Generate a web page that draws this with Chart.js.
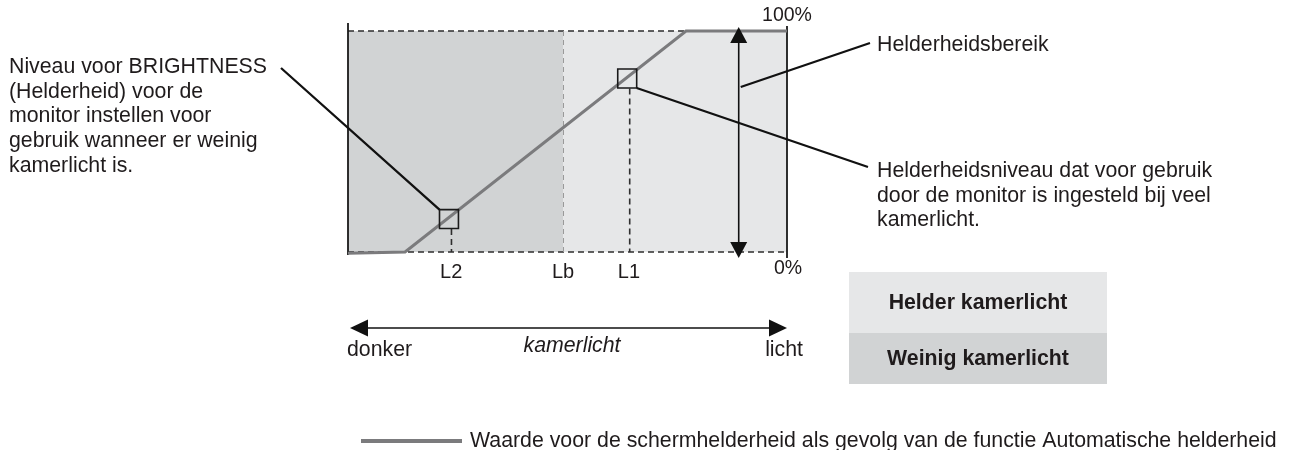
<!DOCTYPE html>
<html>
<head>
<meta charset="utf-8">
<script src="https://cdn.jsdelivr.net/npm/chart.js@4.4.1/dist/chart.umd.min.js"></script>
<style>
  html, body { margin: 0; padding: 0; background: #ffffff; }
  #wrap { width: 1294px; height: 450px; position: relative; }
</style>
</head>
<body>
<div id="wrap"><canvas id="chart" width="1294" height="450"></canvas></div>
<script>
// Room light (x, 0 = dark … 100 = light) against screen brightness (y, %)
const curveX = [0, 13, 77, 100];
const curveY = [-0.6, 0, 100, 100];

// Operating points L2 (little room light) and L1 (bright room light)
const markerX = [23, 63.6];
const markerY = [14.9, 78.5];

// Boundary between dim and bright room light
const boundaryX = 49;
// Position of the brightness-range arrow
const rangeX = 89;

// Tick labels along the light axis
const tickPos = [23.5, 49, 64];
const tickLabels = ['L2', 'Lb', 'L1'];
const yLabels = ['0%', '100%'];

const legendLabel = 'Waarde voor de schermhelderheid als gevolg van de functie Automatische helderheid';
const leftNote = ['Niveau voor BRIGHTNESS', '(Helderheid) voor de', 'monitor instellen voor', 'gebruik wanneer er weinig', 'kamerlicht is.'];
const rangeNote = 'Helderheidsbereik';
const levelNote = ['Helderheidsniveau dat voor gebruik', 'door de monitor is ingesteld bij veel', 'kamerlicht.'];
const zoneLabels = ['Helder kamerlicht', 'Weinig kamerlicht'];
const axisWords = ['donker', 'kamerlicht', 'licht'];

const FONT = '"Liberation Sans", Arial, Helvetica, sans-serif';
const SIZE = '21.3px ';
const TEXT = '#1f1b1c';
const DARK_ZONE = '#d1d3d4';
const LIGHT_ZONE = '#e6e7e8';
const CURVE = '#7b7b7d';

function arrowHead(ctx, x, y, dir, len, half) {
  // dir: 'up' | 'down' | 'left' | 'right'; (x, y) is the tip
  ctx.beginPath();
  ctx.moveTo(x, y);
  if (dir === 'up') { ctx.lineTo(x - half, y + len); ctx.lineTo(x + half, y + len); }
  if (dir === 'down') { ctx.lineTo(x - half, y - len); ctx.lineTo(x + half, y - len); }
  if (dir === 'left') { ctx.lineTo(x + len, y - half); ctx.lineTo(x + len, y + half); }
  if (dir === 'right') { ctx.lineTo(x - len, y - half); ctx.lineTo(x - len, y + half); }
  ctx.closePath();
  ctx.fill();
}

const backdrop = {
  id: 'backdrop',
  beforeDatasetsDraw(chart) {
    const { ctx, scales: { x, y } } = chart;
    const x0 = x.getPixelForValue(0), x1 = x.getPixelForValue(100);
    const xb = x.getPixelForValue(boundaryX);
    const y0 = y.getPixelForValue(0), y1 = y.getPixelForValue(100);
    ctx.save();
    // zones
    ctx.fillStyle = DARK_ZONE;
    ctx.fillRect(x0, y1, xb - x0, y0 - y1);
    ctx.fillStyle = LIGHT_ZONE;
    ctx.fillRect(xb, y1, x1 - xb, y0 - y1);

    // 0% and 100% guides
    ctx.strokeStyle = '#2e2e2e';
    ctx.lineWidth = 1.6;
    ctx.setLineDash([6, 4]);
    ctx.beginPath();
    ctx.moveTo(x0, y1); ctx.lineTo(x1, y1);
    ctx.moveTo(x0, y0); ctx.lineTo(x1, y0);
    ctx.stroke();

    // drop lines from the operating points
    ctx.beginPath();
    markerX.forEach((mx, i) => {
      const px = x.getPixelForValue(mx) + 2.5;
      ctx.moveTo(px, y.getPixelForValue(markerY[i]) + 10);
      ctx.lineTo(px, y0);
    });
    ctx.stroke();

    // Lb boundary
    ctx.strokeStyle = '#9a9a9a';
    ctx.lineWidth = 1;
    ctx.setLineDash([5, 4]);
    ctx.beginPath();
    ctx.moveTo(Math.round(xb) + 0.5, y1);
    ctx.lineTo(Math.round(xb) + 0.5, y0);
    ctx.stroke();

    // frame sides
    ctx.setLineDash([]);
    ctx.strokeStyle = '#1a1a1a';
    ctx.lineWidth = 1.8;
    ctx.beginPath();
    ctx.moveTo(x0, y1 - 8); ctx.lineTo(x0, y0 + 3);
    ctx.moveTo(x1, y1 - 5); ctx.lineTo(x1, y0 + 6);
    ctx.stroke();

    // 0% / 100% labels at the right side
    ctx.fillStyle = TEXT;
    ctx.font = '19.5px ' + FONT;
    ctx.textAlign = 'center';
    ctx.textBaseline = 'middle';
    ctx.fillText(yLabels[1], x1, y1 - 15);
    ctx.fillText(yLabels[0], x1 + 1, y0 + 17);
    ctx.restore();
  }
};

const notes = {
  id: 'notes',
  afterDatasetsDraw(chart) {
    const { ctx, scales: { x, y } } = chart;
    const x0 = x.getPixelForValue(0), x1 = x.getPixelForValue(100);
    const y0 = y.getPixelForValue(0), y1 = y.getPixelForValue(100);
    const ax = x.getPixelForValue(rangeX);
    const half = 9.5;
    const p2 = { x: x.getPixelForValue(markerX[0]), y: y.getPixelForValue(markerY[0]) };
    const p1 = { x: x.getPixelForValue(markerX[1]), y: y.getPixelForValue(markerY[1]) };
    ctx.save();
    ctx.fillStyle = '#111111';
    ctx.strokeStyle = '#111111';

    // brightness range double arrow
    ctx.lineWidth = 1.6;
    ctx.beginPath();
    ctx.moveTo(ax, y1 + 8); ctx.lineTo(ax, y0 - 8);
    ctx.stroke();
    arrowHead(ctx, ax, y1 - 4, 'up', 16, 8.5);
    arrowHead(ctx, ax, y0 + 6, 'down', 16, 8.5);

    // callout lines
    ctx.lineWidth = 2.3;
    ctx.beginPath();
    ctx.moveTo(281, 68); ctx.lineTo(p2.x - half, p2.y - half);
    ctx.moveTo(ax + 2, 87); ctx.lineTo(870, 43);
    ctx.moveTo(p1.x + half, p1.y + half); ctx.lineTo(868, 167);
    ctx.stroke();

    // room-light axis
    ctx.lineWidth = 1.6;
    ctx.beginPath();
    ctx.moveTo(x0 + 14, 328); ctx.lineTo(x1 - 14, 328);
    ctx.stroke();
    arrowHead(ctx, x0 + 2, 328, 'left', 18, 8.5);
    arrowHead(ctx, x1, 328, 'right', 18, 8.5);

    ctx.fillStyle = TEXT;
    ctx.textBaseline = 'middle';
    ctx.font = SIZE + FONT;
    ctx.textAlign = 'left';
    ctx.fillText(axisWords[0], x0 - 1, 350);
    ctx.textAlign = 'right';
    ctx.fillText(axisWords[2], x1 + 16, 350);
    ctx.textAlign = 'center';
    ctx.font = 'italic ' + SIZE + FONT;
    ctx.fillText(axisWords[1], 572, 346);

    // annotation texts
    ctx.font = SIZE + FONT;
    ctx.textAlign = 'left';
    leftNote.forEach((t, i) => ctx.fillText(t, 9, 67 + i * 24.8));
    ctx.fillText(rangeNote, 877, 45);
    levelNote.forEach((t, i) => ctx.fillText(t, 877, 171 + i * 24.8));

    // zone key
    ctx.fillStyle = LIGHT_ZONE;
    ctx.fillRect(849, 272, 258, 61);
    ctx.fillStyle = DARK_ZONE;
    ctx.fillRect(849, 333, 258, 51);
    ctx.fillStyle = TEXT;
    ctx.font = 'bold ' + SIZE + FONT;
    ctx.textAlign = 'center';
    ctx.fillText(zoneLabels[0], 978, 303);
    ctx.fillText(zoneLabels[1], 978, 359);

    // series key
    ctx.strokeStyle = CURVE;
    ctx.lineWidth = 4;
    ctx.beginPath();
    ctx.moveTo(361, 441); ctx.lineTo(462, 441);
    ctx.stroke();
    ctx.font = SIZE + FONT;
    ctx.textAlign = 'left';
    ctx.fillText(legendLabel, 470, 441);
    ctx.restore();
  }
};

new Chart(document.getElementById('chart'), {
  type: 'line',
  data: {
    datasets: [
      {
        label: legendLabel,
        data: curveX.map((v, i) => ({ x: v, y: curveY[i] })),
        borderColor: CURVE,
        borderWidth: 3,
        pointRadius: 0,
        tension: 0,
        clip: false,
        order: 2
      },
      {
        label: 'L2 / L1',
        data: markerX.map((v, i) => ({ x: v, y: markerY[i] })),
        showLine: false,
        pointStyle: 'rect',
        pointRadius: 13.4,
        pointHoverRadius: 13.4,
        pointBackgroundColor: 'rgba(0,0,0,0)',
        pointBorderColor: '#1a1a1a',
        pointBorderWidth: 1.6,
        clip: false,
        order: 1
      }
    ]
  },
  options: {
    responsive: false,
    animation: false,
    events: [],
    layout: { padding: { left: 348, right: 507, top: 31, bottom: 168 } },
    plugins: { legend: { display: false }, tooltip: { enabled: false } },
    scales: {
      x: {
        type: 'linear',
        min: 0,
        max: 100,
        grid: { display: false, drawTicks: false },
        border: { display: false },
        afterBuildTicks(scale) { scale.ticks = tickPos.map(v => ({ value: v })); },
        afterFit(scale) { scale.height = 30; },
        ticks: {
          autoSkip: false,
          maxRotation: 0,
          padding: 8,
          color: TEXT,
          font: { family: FONT, size: 20 },
          callback(value, index) { return tickLabels[index]; }
        }
      },
      y: { type: 'linear', min: 0, max: 100, display: false }
    }
  },
  plugins: [backdrop, notes]
});
</script>
</body>
</html>
